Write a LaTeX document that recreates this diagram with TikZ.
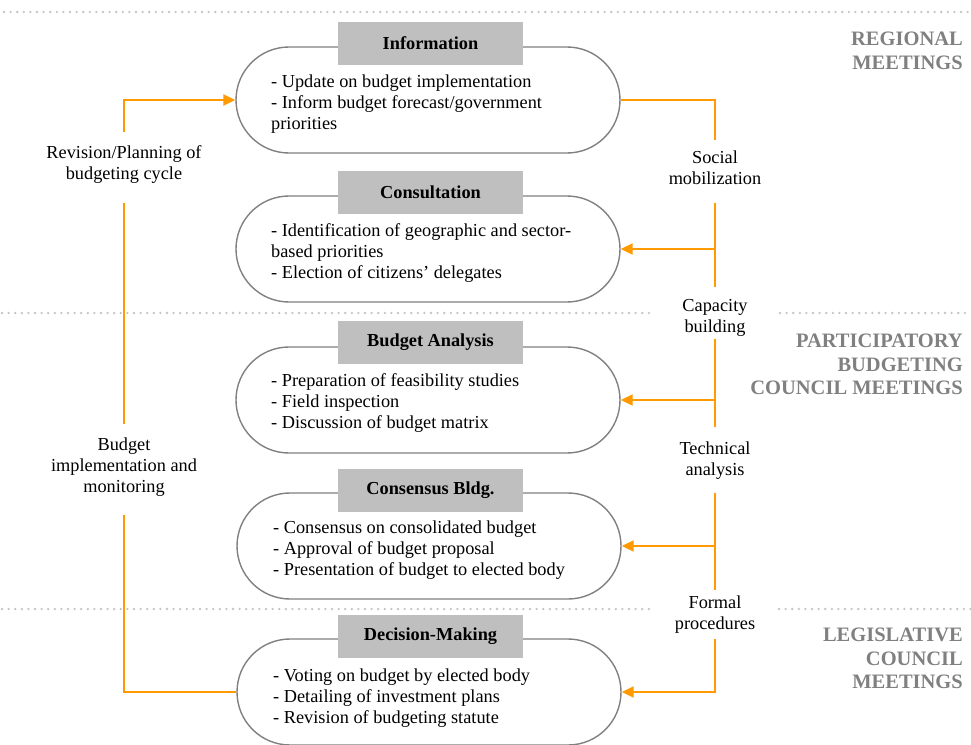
\documentclass[tikz,border=0pt]{standalone}
\usepackage{fontspec}
\setmainfont{Liberation Serif}
\usetikzlibrary{arrows.meta,shapes.misc,calc}
\definecolor{flow}{HTML}{FF9A00}
\definecolor{rim}{HTML}{808080}
\definecolor{head}{HTML}{BFBFBF}
\definecolor{dots}{HTML}{C4C4C4}
\definecolor{grp}{HTML}{808080}
\begin{document}
\begin{tikzpicture}[x=1pt,y=-1pt,
  stadium/.style={rounded rectangle, draw=rim, line width=1.4pt,
    minimum width=384pt, minimum height=106pt, inner sep=0pt},
  headbox/.style={fill=head, minimum width=185pt, minimum height=43pt,
    inner sep=0pt, font=\fontsize{18.3}{21}\selectfont\bfseries},
  body/.style={anchor=north west, inner sep=0pt, align=left,
    font=\fontsize{18.3}{21}\selectfont},
  side/.style={inner sep=0pt, align=center, font=\fontsize{18.3}{21}\selectfont},
  group/.style={anchor=north east, inner sep=0pt, align=right, text=grp,
    font=\fontsize{20.5}{23.5}\selectfont\bfseries},
  flowline/.style={draw=flow, line width=2pt},
  flowarrow/.style={flowline, -{Triangle[length=12pt,width=11pt]}},
  sep/.style={draw=dots, line width=2.6pt, line cap=round, dash pattern=on 0pt off 6.6pt}]

\useasboundingbox (0,0) rectangle (971,744);

% section separators
\draw[sep] (4,12) -- (971,12);
\draw[sep] (2,313) -- (650,313);
\draw[sep] (780,313) -- (971,313);
\draw[sep] (2,609) -- (652,609);
\draw[sep] (779,609) -- (971,609);

% meeting groups
\node[group] (regional) at (963,32.2) {REGIONAL\\MEETINGS};
\node[group] (council) at (963,334.2) {PARTICIPATORY\\BUDGETING\\COUNCIL MEETINGS};
\node[group] (legis) at (963,628.2) {LEGISLATIVE\\COUNCIL\\MEETINGS};

% stages
\node[stadium] (info) at (428,100) {};
\node[stadium] (consult) at (428,249) {};
\node[stadium] (ba) at (428,400) {};
\node[stadium] (cons) at (429,546) {};
\node[stadium] (dec) at (429,692) {};

\node[headbox] (hinfo) at (430.5,43.5) {Information};
\node[headbox] (hconsult) at (430.5,192) {Consultation};
\node[headbox] (hba) at (430.5,342) {Budget Analysis};
\node[headbox] (hcons) at (430.5,490) {Consensus Bldg.};
\node[headbox] (hdec) at (430.5,636) {Decision-Making};

\node[body] (tinfo) at (271,74.5) {- Update on budget implementation\\- Inform budget forecast/government\\priorities};
\node[body] (tconsult) at (271,223.5) {- Identification of geographic and sector-\\based priorities\\- Election of citizens’ delegates};
\node[body] (tba) at (271,373.5) {- Preparation of feasibility studies\\- Field inspection\\- Discussion of budget matrix};
\node[body] (tcons) at (273,520.5) {- Consensus on consolidated budget\\- Approval of budget proposal\\- Presentation of budget to elected body};
\node[body] (tdec) at (273,669) {- Voting on budget by elected body\\- Detailing of investment plans\\- Revision of budgeting statute};

% side labels
\node[side] (rev) at (124,164.5) {Revision/Planning of\\budgeting cycle};
\node[side] (budimpl) at (124,467.5) {Budget\\implementation and\\monitoring};
\node[side] (social) at (715,167.5) {Social\\mobilization};
\node[side] (capacity) at (715,317.5) {Capacity\\building};
\node[side] (technical) at (715,460.5) {Technical\\analysis};
\node[side] (formal) at (715,614.5) {Formal\\procedures};

% right-hand flow
\draw[flowline] (info.east) -| ($(social.north)+(0,-10)$);
\draw[flowline] ($(social.south)+(0,18.5)$) -- ($(capacity.north)+(0,-12)$);
\draw[flowline] ($(capacity.south)+(0,2.5)$) -- ($(technical.north)+(0,-14)$);
\draw[flowline] ($(technical.south)+(0,13.5)$) -- ($(formal.north)+(0,-6)$);
\draw[flowarrow] (consult.east -| social) -- (consult.east);
\draw[flowarrow] (ba.east -| capacity) -- (ba.east);
\draw[flowarrow] (cons.east -| technical) -- (cons.east);
\draw[flowarrow] ($(formal.south)+(0,5.5)$) |- (dec.east);

% left-hand flow
\draw[flowline] (dec.west) -| ($(budimpl.south)+(0,17.5)$);
\draw[flowline] ($(budimpl.north)+(0,-14)$) -- ($(rev.south)+(0,19.5)$);
\draw[flowarrow] ($(rev.north)+(0,-13)$) |- (info.west);
\end{tikzpicture}
\end{document}
